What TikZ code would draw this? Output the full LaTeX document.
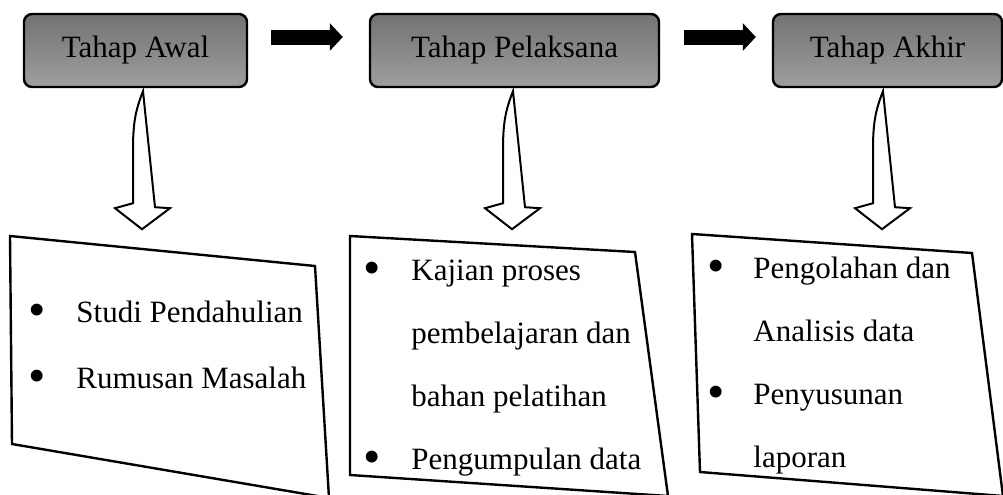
\documentclass[tikz,border=0pt]{standalone}
\usepackage{fontspec}
\setmainfont{Liberation Serif}
\usepackage{graphicx}
\usepackage{tikz}
\usetikzlibrary{arrows.meta}

\tikzset{
  tahap/.style={draw,line width=1.2pt,rounded corners=4pt,top color=black!55,bottom color=black!38,
    minimum height=36.5pt,inner sep=0pt,font=\fontsize{15.5}{18}\selectfont},
  panah/.style={line width=7.5pt,-{Triangle[length=6.5pt,width=13.5pt]}},
  kosong/.style={draw,line width=1pt,fill=white,line join=miter},
  kotak/.style={line width=1.2pt},
  isi/.style={anchor=base west,inner sep=0pt,font=\fontsize{15.5}{31.5}\selectfont}
}
\newcommand{\titik}{\raisebox{-2.3pt}{\scalebox{1.6}{\textbullet}}}
\newcommand{\panahbawah}[1]{\draw[kosong] (#1) .. controls +(-7,18) and +(0,-28) .. ++(-10,58) -- ++(0,54) -- ++(-18,5) -- ++(27,21) -- ++(28,-21) -- ++(-15,-1) -- cycle;}

\begin{document}
\begin{tikzpicture}[x=0.5pt,y=-0.5pt]
    \useasboundingbox (0,0) rectangle (1003,494);
    \node[tahap,minimum width=111.5pt] (awal) at (135.5,50.5) {Tahap Awal};
    \node[tahap,minimum width=144.5pt] (pelaksana) at (514.5,50.5) {Tahap Pelaksana};
    \node[tahap,minimum width=114.5pt] (akhir) at (887.5,50.5) {Tahap Akhir};
    \draw[panah] ([xshift=11.5pt,yshift=6.75pt]awal.east) -- ([xshift=-13pt,yshift=6.75pt]pelaksana.west);
    \draw[panah] ([xshift=12pt,yshift=6.75pt]pelaksana.east) -- ([xshift=-8pt,yshift=6.75pt]akhir.west);
    \panahbawah{[xshift=3.75pt,yshift=-1.5pt]awal.south}
    \panahbawah{[xshift=-0.75pt,yshift=-1.5pt]pelaksana.south}
    \panahbawah{[xshift=-2.25pt,yshift=-1.5pt]akhir.south}
    \draw[kotak] (10,236) -- (315,266) -- (329,498) -- (12,444) -- cycle;
    \draw[kotak] (350,236) -- (635,252) -- (668,496) -- (350,475) -- cycle;
    \draw[kotak] (692,234) -- (972,253) -- (1003,496) -- (700,472) -- cycle;
    \node[isi,font=\fontsize{15.5}{33}\selectfont] (isiawal) at (28,322) {\begin{tabular}[t]{@{}p{24pt}@{}l@{}}
      \titik & Studi Pendahulian\\
      \titik & Rumusan Masalah
    \end{tabular}};
    \node[isi] (isipelaksana) at (363,280) {\begin{tabular}[t]{@{}p{24pt}@{}l@{}}
      \titik & Kajian proses\\
      & pembelajaran dan\\
      & bahan pelatihan\\
      \titik & Pengumpulan data
    \end{tabular}};
    \node[isi] (isiakhir) at (707,278) {\begin{tabular}[t]{@{}p{23pt}@{}l@{}}
      \titik & Pengolahan dan\\
      & Analisis data\\
      \titik & Penyusunan\\
      & laporan
    \end{tabular}};
\end{tikzpicture}
\end{document}
